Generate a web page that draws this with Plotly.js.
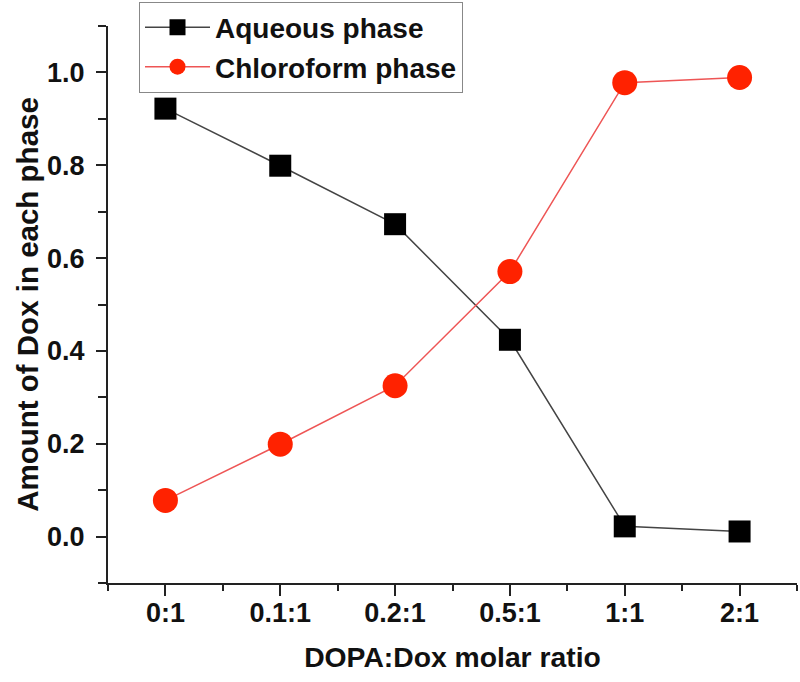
<!DOCTYPE html>
<html>
<head>
<meta charset="utf-8">
<script src="https://cdn.plot.ly/plotly-3.0.1.min.js"></script>
<style>html,body{margin:0;padding:0;background:#fff;}#chart{width:800px;height:682px;}</style>
</head>
<body>
<div id="chart"></div>
<script>
const categories = ["0:1", "0.1:1", "0.2:1", "0.5:1", "1:1", "2:1"];
const aqueous = [0.922, 0.799, 0.673, 0.424, 0.022, 0.011];
const chloroform = [0.078, 0.199, 0.325, 0.571, 0.978, 0.989];
const yTickVals = [0.0, 0.2, 0.4, 0.6, 0.8, 1.0];
const yTickText = ["0.0", "0.2", "0.4", "0.6", "0.8", "1.0"];

const xIdx = categories.map((c, i) => i);
const FONT = "Liberation Sans, Arial, sans-serif";

const traces = [
  {
    x: xIdx, y: aqueous, name: "Aqueous phase", type: "scatter", mode: "lines+markers",
    line: {color: "#444444", width: 1.5},
    marker: {symbol: "square", size: 22, color: "#000000"}
  },
  {
    x: xIdx, y: chloroform, name: "Chloroform phase", type: "scatter", mode: "lines+markers",
    line: {color: "#ee5555", width: 1.5},
    marker: {symbol: "circle", size: 25, color: "#ff2200"}
  }
];

const layout = {
  width: 800, height: 682,
  margin: {l: 108, r: 3, t: 25, b: 99},
  paper_bgcolor: "#ffffff", plot_bgcolor: "#ffffff",
  font: {family: FONT, color: "#111111"},
  showlegend: true,
  legend: {
    x: 0.045, y: 1.042, xanchor: "left", yanchor: "top",
    bordercolor: "#888888", borderwidth: 1, bgcolor: "#ffffff",
    font: {family: FONT, size: 28, weight: "bold", color: "#111111"},
    itemwidth: 65, tracegroupgap: 0
  },
  xaxis: {
    range: [-0.5, 5.5], tickmode: "array", tickvals: xIdx, ticktext: categories,
    showgrid: false, zeroline: false, showline: true, linecolor: "#222222", linewidth: 2,
    ticks: "outside", ticklen: 11, tickwidth: 2, tickcolor: "#222222",
    minor: {dtick: 0.5, tick0: -0.5, ticks: "outside", ticklen: 6, tickwidth: 2, tickcolor: "#222222", showgrid: false},
    tickfont: {family: FONT, size: 27, weight: "bold", color: "#111111"},
    ticklabelstandoff: -6,
    title: {text: "DOPA:Dox molar ratio", font: {family: FONT, size: 28.3, weight: "bold", color: "#111111"}, standoff: 20},
    fixedrange: true
  },
  yaxis: {
    range: [-0.1, 1.1], tickmode: "array", tickvals: yTickVals, ticktext: yTickText,
    showgrid: false, zeroline: false, showline: true, linecolor: "#222222", linewidth: 2,
    ticks: "outside", ticklen: 10, tickwidth: 2, tickcolor: "#222222",
    minor: {dtick: 0.1, tick0: 0, ticks: "outside", ticklen: 8, tickwidth: 2, tickcolor: "#222222", showgrid: false},
    tickfont: {family: FONT, size: 27, weight: "bold", color: "#111111"},
    ticklabelstandoff: 6,
    title: {text: "Amount of Dox in each phase", font: {family: FONT, size: 29.5, weight: "bold", color: "#111111"}, standoff: 0},
    fixedrange: true
  }
};

Plotly.newPlot("chart", traces, layout, {displayModeBar: false, staticPlot: true});
</script>
</body>
</html>
